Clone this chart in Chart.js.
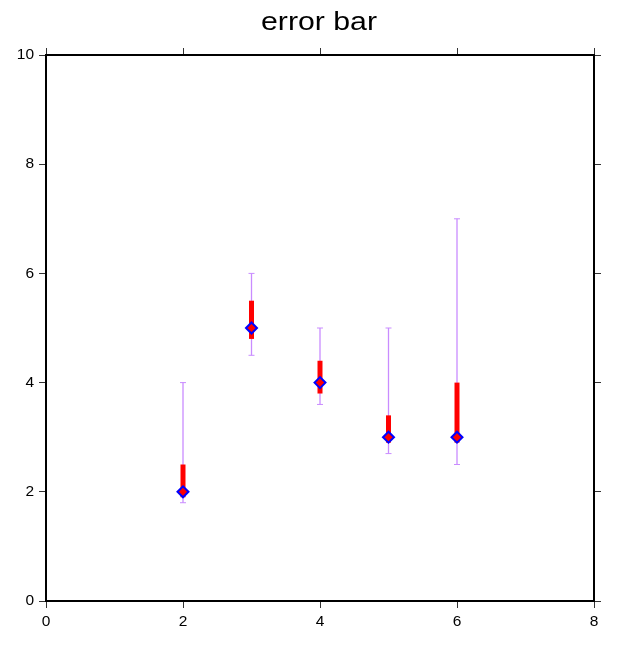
<!DOCTYPE html>
<html>
<head>
<meta charset="utf-8">
<script src="https://cdn.jsdelivr.net/npm/chart.js@4"></script>
<style>
  html, body { margin: 0; padding: 0; background: #fff; }
  #wrap { width: 622px; height: 649px; }
</style>
</head>
<body>
<div id="wrap"><canvas id="chart" width="622" height="649"></canvas></div>
<script>
// values
const xs = [2, 3, 4, 5, 6];
const medians = [2, 5, 4, 3, 3];
const lows = [1.8, 4.5, 3.6, 2.7, 2.5];
const highs = [4, 6, 5, 5, 7];
const q1s = [1.9, 4.8, 3.8, 2.9, 2.9];
const q3s = [2.5, 5.5, 4.4, 3.4, 4];
const xTicks = [0, 2, 4, 6, 8];
const yTicks = [0, 2, 4, 6, 8, 10];
const titleText = "error bar";

const font = "'Liberation Sans', Arial, sans-serif";
const whiskerColor = "#c98cff";

const datasets = [];

// thin whiskers with small caps
xs.forEach((x, i) => {
    datasets.push({
        data: [{ x: x, y: lows[i] }, { x: x, y: highs[i] }],
        showLine: true,
        borderColor: whiskerColor,
        borderWidth: 1.3,
        pointStyle: "line",
        pointRadius: 3,
        pointBorderColor: whiskerColor,
        pointBorderWidth: 1,
        order: 3
    });
});

// thick red bars
xs.forEach((x, i) => {
    datasets.push({
        data: [{ x: x, y: q1s[i] }, { x: x, y: q3s[i] }],
        showLine: true,
        borderColor: "#ff0000",
        borderWidth: 5,
        borderCapStyle: "butt",
        pointRadius: 0,
        order: 2
    });
});

// diamonds at the medians
datasets.push({
    data: xs.map((x, i) => ({ x: x, y: medians[i] })),
    pointStyle: "rectRot",
    pointRadius: 5.5,
    backgroundColor: "#ff0000",
    borderColor: "#0000ff",
    borderWidth: 2,
    order: 1
});

const tickGrid = {
    drawOnChartArea: false,
    drawTicks: true,
    tickLength: 7,
    color: "#333",
    lineWidth: 1
};
const border = { display: true, color: "#000", width: 2 };

// title is a bit wider than the plain font, so draw it stretched over the plot
const titlePlugin = {
    id: "stretchTitle",
    afterDraw(chart) {
        const ctx = chart.ctx;
        const area = chart.chartArea;
        ctx.save();
        ctx.translate((area.left + area.right) / 2 - 1, 30);
        ctx.scale(1.21, 1);
        ctx.font = "25px " + font;
        ctx.fillStyle = "#000";
        ctx.textAlign = "center";
        ctx.textBaseline = "alphabetic";
        ctx.fillText(titleText, 0, 0);
        ctx.restore();
    }
};

new Chart(document.getElementById("chart").getContext("2d"), {
    type: "scatter",
    data: { datasets: datasets },
    options: {
        responsive: false,
        animation: false,
        layout: { padding: 0 },
        plugins: {
            legend: { display: false },
            tooltip: { enabled: false },
            title: { display: false }
        },
        scales: {
            x: {
                type: "linear", position: "bottom", min: 0, max: 8,
                afterBuildTicks: (s) => { s.ticks = xTicks.map(v => ({ value: v })); },
                ticks: { color: "#000", font: { family: font, size: 15.5 }, padding: 4, maxRotation: 0 },
                grid: tickGrid, border: border,
                afterFit: (s) => { s.height = 48; }
            },
            x2: {
                type: "linear", position: "top", min: 0, max: 8,
                afterBuildTicks: (s) => { s.ticks = xTicks.map(v => ({ value: v })); },
                ticks: { display: false },
                grid: tickGrid, border: border,
                afterFit: (s) => { s.height = 55; }
            },
            y: {
                type: "linear", position: "left", min: 0, max: 10,
                afterBuildTicks: (s) => { s.ticks = yTicks.map(v => ({ value: v })); },
                ticks: { color: "#000", font: { family: font, size: 15.5 }, padding: 5 },
                grid: tickGrid, border: border,
                afterFit: (s) => { s.width = 46; }
            },
            y2: {
                type: "linear", position: "right", min: 0, max: 10,
                afterBuildTicks: (s) => { s.ticks = yTicks.map(v => ({ value: v })); },
                ticks: { display: false },
                grid: tickGrid, border: border,
                afterFit: (s) => { s.width = 28; }
            }
        }
    },
    plugins: [titlePlugin]
});
</script>
</body>
</html>
